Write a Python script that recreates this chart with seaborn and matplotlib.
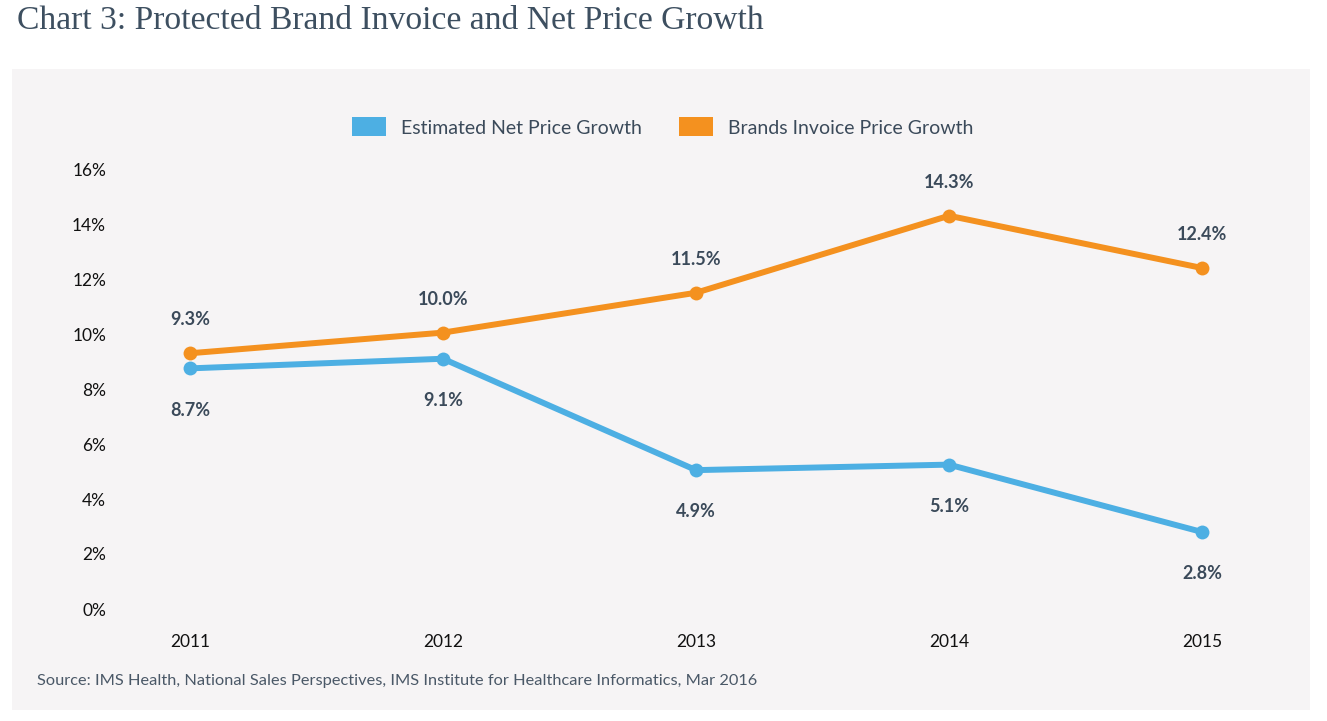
import pandas as pd
import matplotlib
matplotlib.use("Agg")
import matplotlib.pyplot as plt
from matplotlib.patches import Rectangle, Patch
import seaborn as sns

# chart data
years = ["2011", "2012", "2013", "2014", "2015"]
net_growth = [8.75, 9.1, 5.05, 5.25, 2.8]
invoice_growth = [9.3, 10.05, 11.5, 14.3, 12.4]
net_labels = ["8.7%", "9.1%", "4.9%", "5.1%", "2.8%"]
invoice_labels = ["9.3%", "10.0%", "11.5%", "14.3%", "12.4%"]
series_names = ["Estimated Net Price Growth", "Brands Invoice Price Growth"]
y_ticks = [0, 2, 4, 6, 8, 10, 12, 14, 16]

BLUE = "#4dafe3"
ORANGE = "#f4911f"
PANEL = "#f6f4f5"
DARK = "#3b4a5a"

sns.set_style("white")
plt.rcParams["font.family"] = ["Lato", "DejaVu Sans"]

W, H = 1327, 721
fig = plt.figure(figsize=(W / 100, H / 100), dpi=100)
fig.patch.set_facecolor("white")

# grey panel behind the chart
fig.patches.append(Rectangle((12 / W, (H - 710) / H), (1310 - 12) / W, (710 - 69) / H,
                             transform=fig.transFigure, facecolor=PANEL, edgecolor="none", zorder=-5))

# axes placed so 2011..2015 sit at x=190..1202 px and 0..16% at y=609..169 px
ax_left, ax_right = 120, 1280
ax = fig.add_axes([ax_left / W, (H - 609) / H, (ax_right - ax_left) / W, (609 - 169) / H])
ax.set_facecolor(PANEL)
ax.set_zorder(2)

df = pd.DataFrame({
    "x": list(range(len(years))) * 2,
    "value": net_growth + invoice_growth,
    "series": [series_names[0]] * len(years) + [series_names[1]] * len(years),
})

sns.lineplot(data=df, x="x", y="value", hue="series", palette=[BLUE, ORANGE],
             marker="o", markersize=10, markeredgewidth=0, linewidth=4.3,
             legend=False, ax=ax, clip_on=False)

px_per_unit = (1202 - 190) / 4
ax.set_xlim(-(190 - ax_left) / px_per_unit, 4 + (ax_right - 1202) / px_per_unit)
ax.set_ylim(0, 16)
ax.set_xticks(range(len(years)))
ax.set_xticklabels(years)
ax.set_yticks(y_ticks)
ax.set_yticklabels([f"{t}%" for t in y_ticks])
ax.tick_params(axis="both", length=0, labelsize=12.5, colors="#111111")
ax.tick_params(axis="x", pad=18)
ax.tick_params(axis="y", pad=10)
ax.set_xlabel("")
ax.set_ylabel("")
for s in ax.spines.values():
    s.set_visible(False)

# value labels: orange above the points, blue below
for i, (v, lab) in enumerate(zip(invoice_growth, invoice_labels)):
    ax.annotate(lab, (i, v), xytext=(0, 24), textcoords="offset points",
                ha="center", va="center", fontsize=13, fontweight="bold", color=DARK)
for i, (v, lab) in enumerate(zip(net_growth, net_labels)):
    ax.annotate(lab, (i, v), xytext=(0, -30), textcoords="offset points",
                ha="center", va="center", fontsize=13, fontweight="bold", color=DARK)

handles = [Patch(facecolor=BLUE, edgecolor="none"), Patch(facecolor=ORANGE, edgecolor="none")]
fig.legend(handles, series_names, loc="center", bbox_to_anchor=(663 / W, (H - 127) / H),
           ncol=2, frameon=False, fontsize=14, handlelength=1.75, handleheight=1.13,
           handletextpad=0.78, columnspacing=1.9, labelcolor=DARK)

fig.text(17 / W, (H - 21) / H, "Chart 3: Protected Brand Invoice and Net Price Growth",
         fontsize=24.2, color="#3d4f60", va="center", ha="left",
         family=["Liberation Serif", "DejaVu Serif"])

fig.text(37 / W, (H - 681) / H,
         "Source: IMS Health, National Sales Perspectives, IMS Institute for Healthcare Informatics, Mar 2016",
         fontsize=11.8, color="#4a5867", va="center", ha="left")

fig.savefig("out.png", dpi=100, facecolor="white")
